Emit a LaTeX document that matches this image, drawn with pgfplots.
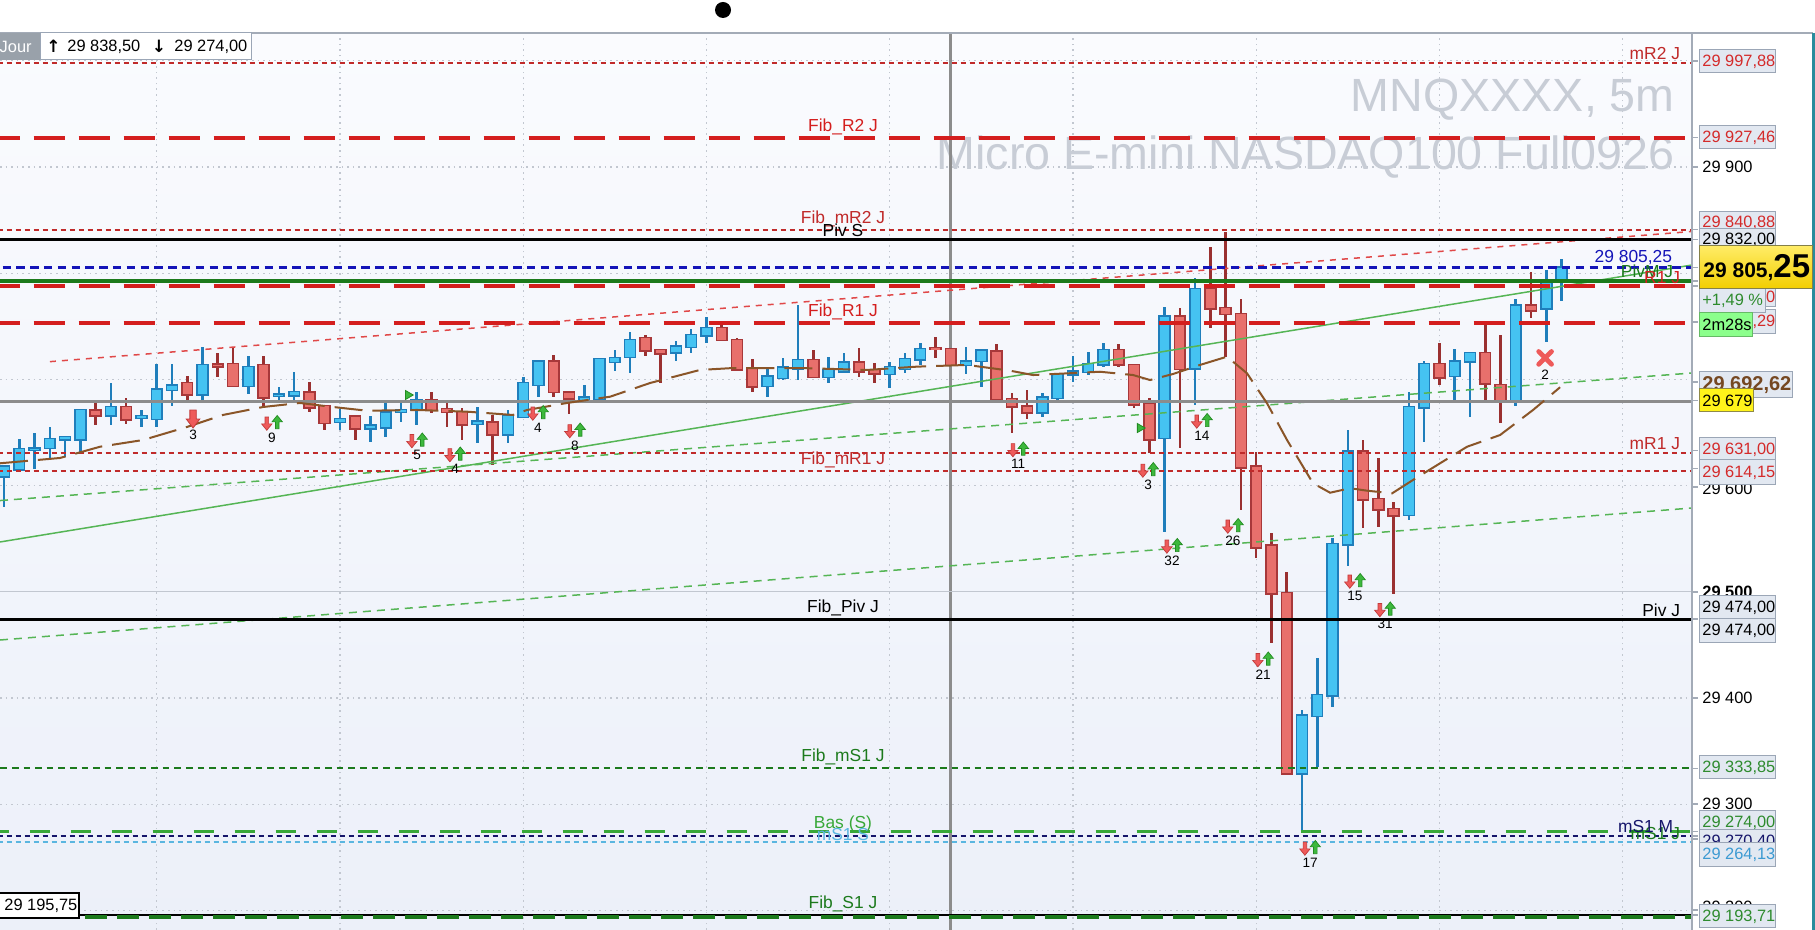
\documentclass[border=0pt]{standalone}
\usepackage{fontspec}
\setmainfont{Liberation Sans}
\newfontfamily\djv{DejaVu Sans}
\usepackage{pgfplots}
\usepackage{pgfplotstable}
\pgfplotsset{compat=1.18}

\definecolor{bgtop}{HTML}{FAFBFE}
\definecolor{bgbot}{HTML}{ECF0F9}
\definecolor{gridc}{HTML}{C2C7D0}
\definecolor{upfill}{HTML}{45C3F2}
\definecolor{upedge}{HTML}{1F7EBB}
\definecolor{dnfill}{HTML}{E8706C}
\definecolor{dnedge}{HTML}{A8383A}
\definecolor{dnwick}{HTML}{9A3030}
\definecolor{lvred}{HTML}{D41E1E}
\definecolor{lvdred}{HTML}{C02A2A}
\definecolor{lvblue}{HTML}{1414B8}
\definecolor{lvgreen}{HTML}{1C7A1C}
\definecolor{lvlgreen}{HTML}{38A838}
\definecolor{lvnavy}{HTML}{15156A}
\definecolor{lvlblue}{HTML}{5AB6E0}
\definecolor{pivgrey}{HTML}{8C8C8C}
\definecolor{brownma}{HTML}{8A5528}
\definecolor{trgreen}{HTML}{55B555}
\definecolor{trred}{HTML}{E04848}
\definecolor{sigred}{HTML}{EE5A5A}
\definecolor{sigredd}{HTML}{C23A3A}
\definecolor{siggreen}{HTML}{3DB83D}
\definecolor{siggreend}{HTML}{228B22}
\definecolor{wmark}{HTML}{C8CDD6}
\definecolor{boxfill}{HTML}{E2E8F1}
\definecolor{boxedge}{HTML}{9BA6B6}
\definecolor{axline}{HTML}{A3ABB7}
\definecolor{edgeteal}{HTML}{2A8C9C}
\definecolor{jourgrey}{HTML}{99A1AA}
\definecolor{txtred}{HTML}{D42A2A}
\definecolor{txtgreen}{HTML}{2E8B2E}
\definecolor{txtlblue}{HTML}{3C9AD2}

\newcommand\lf{\fontsize{8.7}{10}\selectfont}
\newcommand\pf{\fontsize{8.2}{9.5}\selectfont}
\newcommand\nf{\fontsize{6.8}{8}\selectfont}

% price box on the right scale, in pixel units
\newcommand\pbox[5]{%
  \draw[draw=boxedge, line width=0.5pt, fill=boxfill] (1699,#2) rectangle (#1,#3);
  \node[anchor=west, inner sep=0pt, text=#4, font=\pf] at (1702,{(#2+#3)/2}) {#5};}

% signal marks
\pgfdeclareplotmark{sigpair}{%
  \pgfsetlinewidth{0.35pt}%
  \pgfsetstrokecolor{sigredd}\pgfsetfillcolor{sigred}%
  \pgfpathmoveto{\pgfpoint{-3.5pt}{3.2pt}}%
  \pgfpathlineto{\pgfpoint{-1.7pt}{3.2pt}}%
  \pgfpathlineto{\pgfpoint{-1.7pt}{-0.2pt}}%
  \pgfpathlineto{\pgfpoint{0pt}{-0.2pt}}%
  \pgfpathlineto{\pgfpoint{-2.6pt}{-3.4pt}}%
  \pgfpathlineto{\pgfpoint{-5.2pt}{-0.2pt}}%
  \pgfpathlineto{\pgfpoint{-3.5pt}{-0.2pt}}%
  \pgfpathclose\pgfusepath{fill,stroke}%
  \pgfsetstrokecolor{siggreend}\pgfsetfillcolor{siggreen}%
  \pgfpathmoveto{\pgfpoint{2.6pt}{4.0pt}}%
  \pgfpathlineto{\pgfpoint{5.2pt}{0.8pt}}%
  \pgfpathlineto{\pgfpoint{3.5pt}{0.8pt}}%
  \pgfpathlineto{\pgfpoint{3.5pt}{-2.6pt}}%
  \pgfpathlineto{\pgfpoint{1.7pt}{-2.6pt}}%
  \pgfpathlineto{\pgfpoint{1.7pt}{0.8pt}}%
  \pgfpathlineto{\pgfpoint{0pt}{0.8pt}}%
  \pgfpathclose\pgfusepath{fill,stroke}%
}
\pgfdeclareplotmark{sigbig}{%
  \pgfsetlinewidth{0.4pt}%
  \pgfsetstrokecolor{sigredd}\pgfsetfillcolor{sigred}%
  \pgfpathmoveto{\pgfpoint{-1.6pt}{4.5pt}}%
  \pgfpathlineto{\pgfpoint{1.6pt}{4.5pt}}%
  \pgfpathlineto{\pgfpoint{1.6pt}{0pt}}%
  \pgfpathlineto{\pgfpoint{3.4pt}{0pt}}%
  \pgfpathlineto{\pgfpoint{0pt}{-4.5pt}}%
  \pgfpathlineto{\pgfpoint{-3.4pt}{0pt}}%
  \pgfpathlineto{\pgfpoint{-1.6pt}{0pt}}%
  \pgfpathclose\pgfusepath{fill,stroke}%
}
\pgfdeclareplotmark{sigx}{%
  \pgfsetlinewidth{2.4pt}\pgfsetroundcap
  \pgfsetstrokecolor{sigred}%
  \pgfpathmoveto{\pgfpoint{-3.2pt}{-3.2pt}}\pgfpathlineto{\pgfpoint{3.2pt}{3.2pt}}%
  \pgfpathmoveto{\pgfpoint{-3.2pt}{3.2pt}}\pgfpathlineto{\pgfpoint{3.2pt}{-3.2pt}}%
  \pgfusepath{stroke}%
}

% rising candles: index, open, high, low, close
\pgfplotstableread{
i o h l c
0 29609.0 29619.0 29580.0 29617.8
1 29615.6 29643.5 29615.6 29634.1
2 29634.0 29649.2 29615.6 29635.0
3 29635.7 29654.8 29624.1 29643.5
4 29643.8 29645.4 29627.2 29645.4
5 29643.8 29671.1 29631.9 29671.1
7 29666.4 29696.3 29657.6 29673.7
9 29664.5 29671.1 29654.8 29665.5
10 29663.3 29714.5 29655.4 29690.6
11 29690.6 29714.5 29675.2 29694.1
13 29686.2 29730.2 29677.4 29713.5
16 29694.1 29722.0 29686.8 29711.3
18 29684.5 29693.1 29678.0 29685.5
19 29685.3 29707.2 29680.6 29688.1
22 29660.2 29671.8 29652.3 29662.7
24 29653.9 29665.8 29640.7 29656.4
25 29654.8 29678.0 29646.0 29668.6
26 29669.6 29677.4 29660.2 29671.1
27 29671.8 29688.4 29657.0 29680.6
31 29659.0 29673.7 29640.4 29660.0
33 29648.6 29671.1 29640.4 29665.5
34 29664.9 29702.6 29664.9 29696.3
35 29694.8 29718.3 29683.8 29716.7
38 29680.6 29694.8 29677.5 29682.8
39 29681.3 29718.9 29678.1 29718.9
40 29716.7 29727.7 29708.2 29719.9
41 29721.4 29744.4 29706.4 29737.1
44 29725.5 29736.5 29717.7 29730.9
45 29730.9 29747.2 29725.2 29741.8
46 29741.8 29759.1 29734.0 29748.1
50 29693.8 29712.0 29683.1 29702.6
51 29701.7 29719.9 29699.5 29711.1
52 29710.4 29770.1 29699.5 29718.3
54 29702.6 29721.4 29697.0 29708.9
55 29707.9 29725.2 29707.3 29715.8
58 29705.1 29716.7 29691.6 29711.4
59 29710.4 29724.6 29706.4 29718.9
60 29718.9 29734.0 29713.6 29728.3
63 29713.6 29730.2 29705.1 29716.7
64 29717.7 29727.1 29692.6 29727.1
68 29669.0 29687.5 29664.3 29682.8
69 29682.8 29704.8 29680.6 29704.8
70 29704.8 29722.0 29697.9 29707.3
71 29707.3 29725.5 29704.1 29714.2
72 29714.2 29734.0 29712.0 29727.7
76 29645.4 29767.9 29556.6 29759.1
78 29710.4 29795.2 29675.9 29784.8
85 29329.1 29388.7 29274.0 29383.1
86 29383.1 29437.4 29335.3 29402.8
87 29402.8 29550.4 29391.8 29544.7
88 29544.7 29652.4 29524.6 29632.0
92 29572.3 29687.8 29567.6 29673.7
93 29673.7 29717.3 29641.4 29714.2
95 29703.2 29728.6 29680.6 29716.7
96 29717.3 29724.6 29664.3 29724.6
99 29679.0 29775.4 29675.3 29769.4
101 29766.9 29803.0 29734.9 29792.1
102 29792.1 29813.1 29773.8 29805.25
}\upbars

% falling candles
\pgfplotstableread{
i o h l c
6 29670.5 29678.0 29657.6 29666.4
8 29673.7 29682.1 29657.6 29662.4
12 29696.3 29703.2 29677.4 29686.2
14 29714.0 29724.5 29702.5 29712.5
15 29714.5 29730.8 29693.1 29694.1
17 29713.5 29722.0 29673.7 29683.1
20 29687.8 29697.2 29669.6 29673.7
21 29674.9 29674.9 29652.9 29659.5
23 29664.9 29666.4 29643.5 29653.9
28 29680.6 29688.4 29668.6 29671.8
29 29671.8 29679.0 29655.4 29669.6
30 29668.9 29672.7 29642.9 29657.6
32 29659.2 29666.4 29619.4 29648.6
36 29716.7 29723.0 29683.8 29688.5
37 29687.5 29689.4 29667.1 29682.2
42 29738.7 29741.8 29722.4 29727.7
43 29727.7 29727.7 29696.3 29724.6
47 29748.1 29755.3 29736.5 29737.1
48 29737.1 29738.7 29708.9 29709.8
49 29710.4 29718.9 29688.5 29693.8
53 29718.3 29727.7 29701.0 29702.6
56 29715.8 29729.9 29702.6 29707.9
57 29708.9 29715.8 29697.0 29705.7
61 29729.5 29739.6 29719.9 29728.8
62 29728.3 29728.3 29713.6 29713.6
65 29726.1 29733.4 29681.6 29681.6
66 29681.3 29687.5 29649.2 29675.0
67 29674.3 29690.6 29663.3 29669.0
73 29727.7 29733.3 29712.0 29714.2
74 29713.6 29713.6 29672.8 29676.5
75 29676.5 29682.2 29630.4 29643.6
77 29759.1 29766.9 29635.1 29710.4
79 29784.8 29824.4 29748.1 29766.9
80 29766.9 29838.5 29721.4 29761.6
81 29761.3 29776.3 29577.0 29617.2
82 29617.8 29631.9 29531.5 29541.9
83 29543.5 29555.1 29451.5 29498.6
84 29498.6 29518.3 29327.5 29329.1
89 29632.0 29643.0 29559.8 29587.1
90 29587.1 29625.7 29561.4 29577.7
91 29577.7 29584.9 29498.0 29572.3
94 29714.2 29734.0 29694.7 29702.0
97 29724.6 29751.9 29680.6 29696.3
98 29694.7 29741.8 29658.6 29680.0
100 29769.4 29801.5 29757.5 29765.4
}\downbars

% moving average
\pgfplotstableread{
i p
-0.26 29621.0
3.67 29626.0
6.29 29636.6
9.10 29642.9
11.98 29655.2
14.34 29666.5
16.96 29674.0
19.38 29677.8
21.55 29674.0
23.77 29670.5
27.05 29671.2
30.32 29669.6
33.33 29666.5
34.25 29671.2
36.87 29677.8
39.69 29683.7
42.31 29696.6
45.58 29708.9
47.74 29710.7
52.13 29710.7
56.52 29708.9
59.79 29712.0
63.07 29713.6
65.88 29708.2
67.39 29704.1
71.77 29707.2
73.94 29704.1
75.05 29699.4
76.56 29705.1
78.32 29713.6
80.09 29721.4
81.40 29705.7
82.71 29677.5
84.02 29642.9
85.72 29602.2
86.84 29593.3
88.15 29597.5
89.26 29595.2
90.90 29592.7
92.27 29605.3
94.04 29621.0
95.81 29636.6
97.97 29647.6
100.13 29671.2
101.90 29692.6
}\mavg

% signals (arrow pairs) with their counts
\pgfplotstableread{
i p lab
17.55 29658.5 9
27.05 29642.0 5
29.54 29628.8 4
34.97 29667.9 4
37.39 29651.4 8
66.41 29633.5 11
74.92 29614.2 3
78.45 29660.4 14
76.49 29542.7 32
80.48 29561.5 26
82.45 29435.8 21
88.47 29509.7 15
90.44 29482.9 31
85.53 29258.3 17
}\signals

\begin{document}
\begin{tikzpicture}
\path[use as bounding box] (0,0) rectangle (907.5pt,465pt);
\fill[white] (0,0) rectangle (907.5pt,465pt);
\begin{axis}[
  at={(0pt,0pt)}, anchor=south west, scale only axis,
  width=846pt, height=448.5pt,
  xmin=-0.262, xmax=110.54, ymin=29181.54, ymax=30026.18,
  axis line style={draw=none},
  axis background/.style={top color=bgtop, bottom color=bgbot},
  xtick={10,22,...,106}, ytick={29200,29300,...,30000},
  xticklabels={}, yticklabels={},
  scaled x ticks=false, scaled y ticks=false,
  major tick length=0pt,
  xmajorgrids, ymajorgrids,
  grid style={draw=gridc, line width=0.6pt, dash pattern=on 0.8pt off 2pt},
]
% watermark
\node[anchor=base east, inner sep=0pt, text=wmark, font=\fontsize{23.3}{26}\selectfont] at (axis cs:109.43,29952.7) {MNQXXXX, 5m};
\node[anchor=base east, inner sep=0pt, text=wmark, font=\fontsize{23.3}{26}\selectfont] at (axis cs:109.43,29898.1) {Micro E-mini NASDAQ100 Full0926};

% session separator and 29 500 line
\addplot[forget plot, pivgrey, line width=1.5pt] coordinates {(61.95,29100) (61.95,30100)};
\addplot[forget plot, color=gridc, line width=0.6pt] coordinates {(-1,29500) (112,29500)};

% candle wicks
\addplot[forget plot, draw=none, mark=none, error bars/.cd, y dir=both, y explicit, error mark=none,
  error bar style={draw=upedge, line width=1.3pt, solid}]
  table[x=i, y expr={(\thisrow{h}+\thisrow{l})/2}, y error expr={(\thisrow{h}-\thisrow{l})/2}] {\upbars};
\addplot[forget plot, draw=none, mark=none, error bars/.cd, y dir=both, y explicit, error mark=none,
  error bar style={draw=dnwick, line width=1.3pt, solid}]
  table[x=i, y expr={(\thisrow{h}+\thisrow{l})/2}, y error expr={(\thisrow{h}-\thisrow{l})/2}] {\downbars};
% candle bodies: edge then fill
\addplot[forget plot, draw=none, mark=none, error bars/.cd, y dir=both, y explicit, error mark=none,
  error bar style={draw=upedge, line width=6.2pt, solid}]
  table[x=i, y expr={(\thisrow{o}+\thisrow{c})/2}, y error expr={(\thisrow{c}-\thisrow{o})/2+1.4}] {\upbars};
\addplot[forget plot, draw=none, mark=none, error bars/.cd, y dir=both, y explicit, error mark=none,
  error bar style={draw=upfill, line width=4.6pt, solid}]
  table[x=i, y expr={(\thisrow{o}+\thisrow{c})/2}, y error expr={(\thisrow{c}-\thisrow{o})/2}] {\upbars};
\addplot[forget plot, draw=none, mark=none, error bars/.cd, y dir=both, y explicit, error mark=none,
  error bar style={draw=dnedge, line width=6.2pt, solid}]
  table[x=i, y expr={(\thisrow{o}+\thisrow{c})/2}, y error expr={(\thisrow{o}-\thisrow{c})/2+1.4}] {\downbars};
\addplot[forget plot, draw=none, mark=none, error bars/.cd, y dir=both, y explicit, error mark=none,
  error bar style={draw=dnfill, line width=4.6pt, solid}]
  table[x=i, y expr={(\thisrow{o}+\thisrow{c})/2}, y error expr={(\thisrow{o}-\thisrow{c})/2}] {\downbars};

% trend lines
\addplot[forget plot, trred, line width=0.75pt, dash pattern=on 3pt off 3pt] coordinates {(3.01,29716.7) (110.54,29839.3)};
\addplot[forget plot, trgreen, line width=0.75pt] coordinates {(-0.262,29546.9) (110.54,29807.7)};
\addplot[forget plot, trgreen, line width=0.75pt, dash pattern=on 4pt off 3pt] coordinates {(-0.262,29585.9) (110.54,29706.0)};
\addplot[forget plot, trgreen, line width=0.75pt, dash pattern=on 4pt off 3pt] coordinates {(-0.262,29454.6) (110.54,29578.9)};

% levels
\addplot[forget plot, lvdred, line width=1pt, dash pattern=on 2.5pt off 2pt] coordinates {(-1,29997.88) (112,29997.88)};
\addplot[forget plot, lvred, line width=2pt, dash pattern=on 15.8pt off 6.7pt] coordinates {(-1,29927.46) (112,29927.46)};
\addplot[forget plot, lvdred, line width=1pt, dash pattern=on 2.5pt off 2pt] coordinates {(-1,29840.88) (112,29840.88)};
\addplot[forget plot, black, line width=1.5pt] coordinates {(-1,29832) (112,29832)};
\addplot[forget plot, lvblue, line width=1.65pt, dash pattern=on 4.2pt off 2.7pt] coordinates {(-1,29805.25) (112,29805.25)};
\addplot[forget plot, lvgreen, line width=1.6pt] coordinates {(-1,29792.7) (112,29792.7)};
\addplot[forget plot, lvred, line width=2pt, dash pattern=on 15.8pt off 6.7pt] coordinates {(-1,29788) (112,29788)};
\addplot[forget plot, lvred, line width=2pt, dash pattern=on 15.8pt off 6.7pt] coordinates {(-1,29753.29) (112,29753.29)};
\addplot[forget plot, pivgrey, line width=1.6pt] coordinates {(-1,29679) (112,29679)};
\addplot[forget plot, lvdred, line width=1pt, dash pattern=on 2.5pt off 2pt] coordinates {(-1,29631) (112,29631)};
\addplot[forget plot, lvdred, line width=1pt, dash pattern=on 2.5pt off 2pt] coordinates {(-1,29614.15) (112,29614.15)};
\addplot[forget plot, black, line width=1.4pt] coordinates {(-1,29474) (112,29474)};
\addplot[forget plot, lvgreen, line width=1pt, dash pattern=on 3.3pt off 2.5pt] coordinates {(-1,29333.85) (112,29333.85)};
\addplot[forget plot, lvlgreen, line width=1.65pt, dash pattern=on 10pt off 10.5pt] coordinates {(-1,29274) (112,29274)};
\addplot[forget plot, lvnavy, line width=1pt, dash pattern=on 2.5pt off 2pt] coordinates {(-1,29270.4) (112,29270.4)};
\addplot[forget plot, lvlblue, line width=1pt, dash pattern=on 2.5pt off 2pt] coordinates {(-1,29264.13) (112,29264.13)};
\addplot[forget plot, black, line width=0.6pt] coordinates {(-1,29195.75) (112,29195.75)};
\addplot[forget plot, lvgreen, line width=1.8pt, dash pattern=on 11pt off 5pt] coordinates {(-1,29193.71) (112,29193.71)};

% moving average
\addplot[forget plot, brownma, line width=1pt, dash pattern=on 14pt off 5pt] table[x=i, y=p] {\mavg};

% signals
\addplot[forget plot, only marks, mark=sigpair, point meta=explicit symbolic,
  nodes near coords, nodes near coords align={below},
  every node near coord/.append style={anchor=north, yshift=-4.6pt, inner sep=0pt, font=\nf, text=black}]
  table[x=i, y=p, meta=lab] {\signals};
\addplot[forget plot, only marks, mark=sigbig, point meta=explicit symbolic,
  nodes near coords, nodes near coords align={below},
  every node near coord/.append style={anchor=north, yshift=-5.2pt, inner sep=0pt, font=\nf, text=black}]
  coordinates {(12.38,29662.7) [3]};
\addplot[forget plot, only marks, mark=sigx, point meta=explicit symbolic,
  nodes near coords, nodes near coords align={below},
  every node near coord/.append style={anchor=north, yshift=-4.8pt, inner sep=0pt, font=\nf, text=black}]
  coordinates {(100.92,29720.2) [2]};
\addplot[forget plot, only marks, mark=triangle*, mark size=2.6pt,
  mark options={rotate=-90, fill=siggreen, draw=siggreend}]
  coordinates {(26.46,29685.3) (74.39,29654.2)};

% level labels
\begin{scope}[every node/.style={inner sep=1.3pt, font=\lf}]
\node[anchor=south east, text=lvdred] at (axis cs:109.95,29997.88) {mR2 J};
\node[anchor=south, text=lvred] at (axis cs:54.94,29927.46) {Fib\_R2 J};
\node[anchor=south, text=lvdred] at (axis cs:54.94,29840.88) {Fib\_mR2 J};
\node[anchor=south, text=black] at (axis cs:54.94,29832) {Piv S};
\node[anchor=south east, text=lvblue] at (axis cs:109.43,29805.25) {29 805,25};
\node[anchor=south east, text=lvgreen] at (axis cs:109.5,29792.7) {PivM J};
\node[anchor=south east, text=lvred] at (axis cs:109.95,29787) {R1 J};
\node[anchor=south, text=lvred] at (axis cs:54.94,29753.29) {Fib\_R1 J};
\node[anchor=south east, text=lvdred] at (axis cs:109.95,29631) {mR1 J};
\node[anchor=south, text=lvdred] at (axis cs:54.94,29614.15) {Fib\_mR1 J};
\node[anchor=south, text=black] at (axis cs:54.94,29474) {Fib\_Piv J};
\node[anchor=south east, text=black] at (axis cs:109.95,29474) {Piv J};
\node[anchor=south, text=lvgreen] at (axis cs:54.94,29333.85) {Fib\_mS1 J};
\node[anchor=base, text=lvlgreen] at (axis cs:54.94,29277) {Bas (S)};
\node[anchor=base, text=lvlblue] at (axis cs:54.94,29266) {mS1 S};
\node[anchor=base east, text=lvgreen] at (axis cs:109.95,29267.2) {mS1 J};
\node[anchor=base east, text=lvnavy] at (axis cs:109.5,29272.9) {mS1 M};
\node[anchor=south, text=lvgreen] at (axis cs:54.94,29195.75) {Fib\_S1 J};
\end{scope}
\end{axis}

% frame, header and right price scale (pixel units)
\begin{scope}[x=0.5pt, y=-0.5pt, shift={(0pt,465pt)}]
\draw[axline, line width=0.8pt] (0,33) -- (1813,33);
\draw[axline, line width=1pt] (1692,33) -- (1692,930);
\draw[edgeteal, line width=1.5pt] (1813.5,33) -- (1813.5,930);
\fill[black] (723,10) circle (4pt);
\fill[jourgrey] (0,33) rectangle (40,60);
\node[anchor=east, inner sep=0pt, text=white, font=\pf] at (32,46.5) {Jour};
\draw[boxedge, fill=white, line width=0.5pt] (40,33) rectangle (251,60);
\node[inner sep=0pt, font=\djv\bfseries\fontsize{8.5}{9}\selectfont] at (53.5,46.5) {↑};
\node[anchor=west, inner sep=0pt, font=\pf] at (67,46.5) {29 838,50};
\node[inner sep=0pt, font=\djv\bfseries\fontsize{8.5}{9}\selectfont] at (159,46.5) {↓};
\node[anchor=west, inner sep=0pt, font=\pf] at (174,46.5) {29 274,00};
% bottom-left box
\draw[black, fill=white, line width=0.6pt] (-1,893) rectangle (79,918);
\node[anchor=west, inner sep=0pt, font=\pf] at (4,905.5) {29 195,75};
% ticks of the price scale
\foreach \yy in {61,137.8,167,229.8,239.2,267.7,281,286,322,382,400.6,450.2,468.2,487,592,619,698,768.4,804,831.7,836,839,910,915}
  \draw[axline, line width=0.6pt] (1692,\yy) -- (1698,\yy);
% plain tick labels
\node[anchor=west, inner sep=0pt, font=\pf] at (1702,167) {29 900};
\node[anchor=west, inner sep=0pt, font=\pf] at (1702,489) {29 600};
\node[anchor=west, inner sep=0pt, font=\pf\bfseries] at (1702,592) {29 500};
\node[anchor=west, inner sep=0pt, font=\pf] at (1702,698) {29 400};
\node[anchor=west, inner sep=0pt, font=\pf] at (1702,804) {29 300};
\node[anchor=west, inner sep=0pt, font=\pf] at (1702,907) {29 200};
% price boxes
\pbox{1775}{50}{73}{txtred}{29 997,88}
\pbox{1775}{126}{149}{txtred}{29 927,46}
\pbox{1775}{212}{234}{txtred}{29 840,88}
\pbox{1775}{229}{250}{black}{29 832,00}
\pbox{1775}{289}{307}{txtred}{29 788,00}
\pbox{1775}{310}{334}{txtred}{29 753,29}
\pbox{1765}{289}{313}{txtgreen}{+1,49 \%}
\draw[draw=green!55!black!60, fill=green!45!white, line width=0.5pt] (1699,313) rectangle (1752,337);
\node[anchor=west, inner sep=0pt, font=\pf] at (1702,325) {2m28s};
\draw[draw=boxedge, line width=0.5pt, fill=boxfill] (1699,372) rectangle (1792,398);
\node[anchor=west, inner sep=0pt, text=brownma!85!black, font=\bfseries\fontsize{10}{11}\selectfont] at (1702,385) {29 692,62};
\draw[draw=yellow!50!black, line width=0.5pt, fill=yellow!90!white] (1699,389) rectangle (1753,412);
\node[anchor=west, inner sep=0pt, font=\pf] at (1702,400.5) {29 679};
\pbox{1775}{438}{462}{txtred}{29 631,00}
\pbox{1775}{460}{485}{txtred}{29 614,15}
\pbox{1775}{596}{619}{black}{29 474,00}
\pbox{1775}{619}{643}{black}{29 474,00}
\pbox{1775}{756}{779}{txtgreen}{29 333,85}
\pbox{1775}{811}{834}{txtgreen}{29 274,00}
\pbox{1775}{830}{853}{lvnavy}{29 270,40}
\pbox{1775}{843}{867}{txtlblue}{29 264,13}
\pbox{1775}{905}{928}{txtgreen}{29 193,71}
\end{scope}
% last price box (absolute units for the gradient)
\shade[top color=yellow!75!orange!60!white, bottom color=orange!30!yellow!95!black, draw=yellow!45!black, line width=0.5pt]
  (849.5pt,320.5pt) rectangle (906pt,342pt);
\node[anchor=west, inner sep=0pt, font=\bfseries] at (851.5pt,331pt)
  {\fontsize{10.5}{12}\selectfont 29 805,\fontsize{16.5}{18}\selectfont 25};
\end{tikzpicture}
\end{document}
